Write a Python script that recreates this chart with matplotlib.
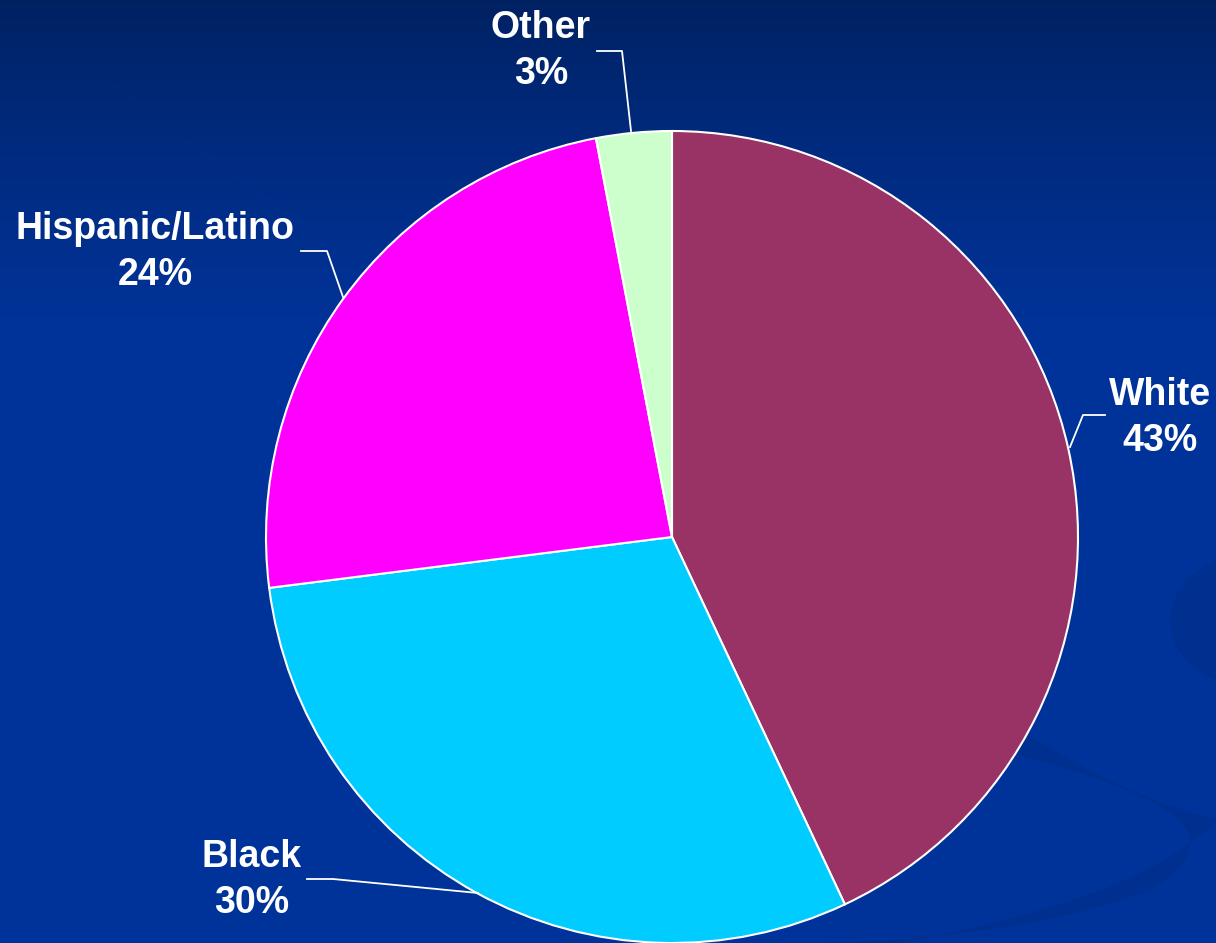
import matplotlib.pyplot as plt
import numpy as np
from matplotlib.patches import PathPatch
from matplotlib.path import Path

plt.rcParams['font.family'] = ['Liberation Sans', 'DejaVu Sans']

# data
labels = ['White', 'Black', 'Hispanic/Latino', 'Other']
shares = [43, 30, 24, 3]
colors = ['#993366', '#00CCFF', '#FF00FF', '#CCFFCC']

W, H = 1216, 943
fig = plt.figure(figsize=(W / 100, H / 100), dpi=100)
ax = fig.add_axes([0, 0, 1, 1])

# gradient background (dark navy at top -> royal blue), row 0 = top
yy = np.linspace(0, 1, 300)[:, None]
top = np.array([0.0, 0.13, 0.38])
bot = np.array([0.0, 0.20, 0.60])
t = np.clip(yy / 0.35, 0, 1) ** 0.8
grad = top * (1 - t[..., None]) + bot * t[..., None]
grad = np.repeat(grad, 2, axis=1)
ax.imshow(grad, extent=[0, W, 0, H], aspect='auto', zorder=0,
          origin='upper')


def py(y):
    return H - y


# faint swooshes in the bottom right
sw = '#00308f'
verts = [(1216, py(560)), (1150, py(590)), (1160, py(660)), (1216, py(680)),
         (1216, py(680)), (1216, py(560)), (1216, py(560))]
codes = [Path.MOVETO, Path.CURVE4, Path.CURVE4, Path.CURVE4,
         Path.LINETO, Path.LINETO, Path.CLOSEPOLY]
ax.add_patch(PathPatch(Path(verts, codes), fc=sw, ec='none', zorder=1))
verts = [(1000, py(750)), (1150, py(790)), (1250, py(830)), (1150, py(890)),
         (1050, py(930)), (900, py(943)), (800, py(943)),
         (900, py(943)), (1120, py(900)), (1170, py(860)),
         (1220, py(820)), (1100, py(790)), (1000, py(750))]
codes = [Path.MOVETO, Path.CURVE4, Path.CURVE4, Path.CURVE4,
         Path.CURVE4, Path.CURVE4, Path.CURVE4,
         Path.LINETO, Path.CURVE4, Path.CURVE4,
         Path.CURVE4, Path.CURVE4, Path.CURVE4]
ax.add_patch(PathPatch(Path(verts, codes), fc=sw, ec='none', zorder=1))

cx, cy, r = 672, py(537), 406
ax.pie(shares, colors=colors, startangle=90, counterclock=False,
       center=(cx, cy), radius=r, frame=True,
       wedgeprops=dict(edgecolor='white', linewidth=1.5, zorder=2))
ax.set_xlim(0, W)
ax.set_ylim(0, H)
ax.set_aspect('auto')
ax.axis('off')

label_pos = [(1160, 418), (252, 880), (155, 252), (541, 51)]
leaders = [
    [(1105, 415), (1083, 415), (1070, 447)],
    [(307, 879), (333, 879), (478, 893)],
    [(301, 251), (327, 251), (343, 297)],
    [(597, 51), (622, 51), (631, 131)],
]
for lab, s, (lx, ly), pts in zip(labels, shares, label_pos, leaders):
    ax.text(lx, py(ly), f'{lab}\n{s}%', ha='center', va='center',
            fontsize=27, fontweight='bold', color='white',
            linespacing=1.35, zorder=4)
    xs = [p[0] for p in pts]
    ys = [py(p[1]) for p in pts]
    ax.plot(xs, ys, color='white', lw=1.3, zorder=3)

plt.savefig('out.png', dpi=100)
